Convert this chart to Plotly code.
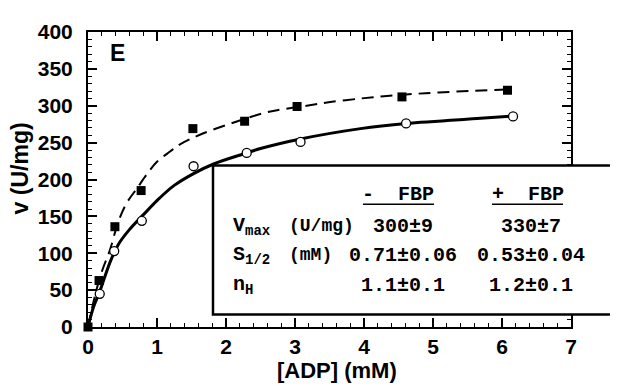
import plotly.graph_objects as go

# ---- data ----
adp_plus = [0, 0.16, 0.39, 0.77, 1.52, 2.27, 3.03, 4.55, 6.08]
v_plus = [0, 63, 136, 185, 269, 279, 299, 312, 321]

adp_minus = [0.17, 0.38, 0.78, 1.53, 2.30, 3.08, 4.61, 6.16]
v_minus = [45, 103, 144, 218, 236, 251, 276, 285.5]

# fitted curves
fit_plus_x = [0, 0.1, 0.2, 0.32, 0.44, 0.56, 0.71, 0.875, 1.0, 1.19, 1.34, 1.63, 2.2, 2.54,
              2.74, 3.17, 3.51, 3.97, 4.29, 4.72, 5.08, 5.54, 6.08]
fit_plus_y = [0, 42, 75, 105, 143, 168, 188, 210, 224, 238, 248, 261, 280, 290,
              294, 300, 305, 310, 313, 316, 318, 320, 322]
fit_minus_x = [0, 0.08, 0.17, 0.32, 0.44, 0.6, 0.8, 1.04, 1.25, 1.53, 1.82, 2.3, 2.5, 3.08,
               3.95, 4.61, 5.69, 6.16]
fit_minus_y = [0, 27, 48, 88, 112, 132, 152, 175, 192, 208, 221, 236, 242, 255,
               269, 276, 283, 286]

x_ticks = [0, 1, 2, 3, 4, 5, 6, 7]
y_ticks = [0, 50, 100, 150, 200, 250, 300, 350, 400]

col_headers = ["-  FBP", "+  FBP"]
row_labels = ["V<sub>max</sub>", "S<sub>1/2</sub>", "n<sub>H</sub>"]
row_units = ["(U/mg)", "(mM)", ""]
vals_minus = ["300±9", "0.71±0.06", "1.1±0.1"]
vals_plus = ["330±7", "0.53±0.04", "1.2±0.1"]

# ---- layout geometry (screen pixels; page body has an 8px margin) ----
OFF = 8
W, H = 618 - OFF, 389 - OFF
X_LEFT, X_RIGHT, Y_TOP, Y_BOT = 88, 571, 22, 327   # plot area on screen
L, T = X_LEFT - OFF, Y_TOP - OFF
R, B = 618 - X_RIGHT, 389 - Y_BOT
PW = X_RIGHT - X_LEFT
PH = Y_BOT - Y_TOP


def px(x):
    return (x - X_LEFT) / PW


def py(y):
    return (Y_BOT - y) / PH


fig = go.Figure()

fig.add_trace(go.Scatter(x=fit_plus_x, y=fit_plus_y, mode="lines", line_shape="spline",
                         line=dict(color="black", width=2, dash="12px,7px"),
                         hoverinfo="skip", showlegend=False))
fig.add_trace(go.Scatter(x=fit_minus_x, y=fit_minus_y, mode="lines", line_shape="spline",
                         line=dict(color="black", width=3),
                         hoverinfo="skip", showlegend=False))
fig.add_trace(go.Scatter(x=adp_minus, y=v_minus, mode="markers", cliponaxis=False,
                         marker=dict(symbol="circle", size=9, color="white",
                                     line=dict(color="black", width=1.3)),
                         showlegend=False))
fig.add_trace(go.Scatter(x=adp_plus, y=v_plus, mode="markers", cliponaxis=False,
                         marker=dict(symbol="square", size=9, color="black",
                                     line=dict(color="black", width=0)),
                         showlegend=False))

sans = "Liberation Sans"
axis_common = dict(showline=True, linecolor="black", linewidth=2, mirror="ticks",
                   ticks="inside", ticklen=9, tickwidth=1.5, tickcolor="black",
                   showgrid=False, zeroline=False,
                   tickfont=dict(family=sans, size=21, color="black"))

fig.update_xaxes(range=[0, 7], tickvals=x_ticks, ticktext=["<b>%d</b>" % v for v in x_ticks],
                 minor=dict(dtick=0.2, ticks="inside", ticklen=4, tickwidth=1, tickcolor="black"),
                 ticklabelstandoff=0,
                 **axis_common)
fig.update_yaxes(range=[0, 400], tickvals=y_ticks, ticktext=["<b>%d</b>" % v for v in y_ticks],
                 minor=dict(dtick=10, ticks="inside", ticklen=4, tickwidth=1, tickcolor="black"),
                 ticklabelstandoff=9,
                 **axis_common)

shapes = [
    dict(type="rect", xref="paper", yref="paper", x0=px(213), x1=px(640),
         y0=py(314), y1=py(160), line=dict(color="black", width=2.5),
         fillcolor="white", layer="above"),
    dict(type="line", xref="paper", yref="paper", x0=px(363), x1=px(434),
         y0=py(200), y1=py(200), line=dict(color="black", width=1.5), layer="above"),
    dict(type="line", xref="paper", yref="paper", x0=px(492), x1=px(563),
         y0=py(200), y1=py(200), line=dict(color="black", width=1.5), layer="above"),
]

mono_family = "Liberation Mono"
mono = dict(family=mono_family, size=20, color="black")
mono_s = dict(family=mono_family, size=18, color="black")


def add_text(text, x, y, font, xanchor="center", angle=0):
    ann.append(dict(text=text, x=px(x), y=py(y), xref="paper", yref="paper",
                    xanchor=xanchor, yanchor="middle", showarrow=False,
                    textangle=angle, font=font))


ann = []
add_text("<b>E</b>", 117, 44, dict(family=sans, size=23, color="black"))
add_text("<b>[ADP] (mM)</b>", 337, 372, dict(family=sans, size=22, color="black"))
add_text("<b>v (U/mg)</b>", 20, 163, dict(family=sans, size=23, color="black"), angle=-90)

header_x = [398, 528]
for hx, htxt in zip(header_x, col_headers):
    add_text("<b>%s</b>" % htxt, hx, 190, mono)

row_y = [223, 253, 284]
for i, ry in enumerate(row_y):
    add_text("<b>%s</b>" % row_labels[i], 231, ry, mono, xanchor="left")
    if row_units[i]:
        add_text("<b>%s</b>" % row_units[i], 287, ry, mono_s, xanchor="left")
    add_text("<b>%s</b>" % vals_minus[i], 403, ry, mono)
    add_text("<b>%s</b>" % vals_plus[i], 531, ry, mono)

fig.update_layout(width=W, height=H, margin=dict(l=L, r=R, t=T, b=B),
                  paper_bgcolor="white", plot_bgcolor="white",
                  shapes=shapes, annotations=ann, showlegend=False)

fig.write_html("out.html")
